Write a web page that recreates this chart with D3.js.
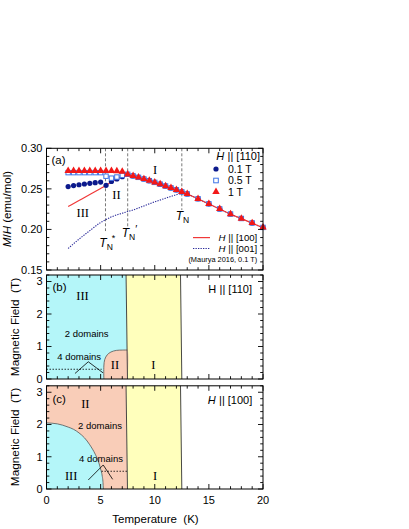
<!DOCTYPE html>
<html><head><meta charset="utf-8">
<script src="https://cdn.jsdelivr.net/npm/d3@7"></script>
<style>
body{margin:0;background:#fff}
svg{display:block}
text{font-family:"Liberation Sans",Arial,Helvetica,sans-serif;fill:#000}
.serif{font-family:"Liberation Serif","Times New Roman",serif}
</style>
</head><body>
<svg id="chart" width="409" height="529"></svg>
<script>
// ---------- data ----------
const tLow  = [2,2.5,3,3.5,4,4.5,5,5.5,6,6.5,7];
const tHigh = [7.5,8,8.5,9,9.5,10,10.5,11,11.5,12,12.5,13,14,15,16,17,18,19,20];
const mhHigh  = [0.2680,0.2660,0.2642,0.2622,0.2601,0.2580,0.2558,0.2535,0.2512,0.2488,0.2463,0.2438,0.2378,0.2316,0.2253,0.2190,0.2135,0.2080,0.2025];
const mh01Low = [0.2528,0.2540,0.2551,0.2560,0.2568,0.2576,0.2584,0.2544,0.2592,0.2622,0.2650];
const mh05Low = [0.2700,0.2700,0.2700,0.2700,0.2700,0.2700,0.2700,0.2656,0.2632,0.2646,0.2666];
const mh1Low  = [0.2722,0.2722,0.2722,0.2722,0.2722,0.2722,0.2722,0.2722,0.2722,0.2720,0.2712];
const t100 = [2,3,4,5,5.5,6,6.5,7,7.5,8,9,10,11,12,12.5,13,14,15,16,17,18,19,20];
const m100 = [0.2282,0.2356,0.2430,0.2505,0.2543,0.2588,0.2622,0.2652,0.2675,0.2658,0.2620,0.2578,0.2533,0.2486,0.2461,0.2436,0.2376,0.2314,0.2251,0.2188,0.2133,0.2078,0.2020];
const t001 = [2,3,4,5,5.5,6,7,7.5,8,9,10,11,12,12.5,13,14,15,16,17,18,19,20];
const m001 = [0.1765,0.1880,0.1985,0.2085,0.2122,0.2155,0.2200,0.2220,0.2240,0.2290,0.2340,0.2385,0.2428,0.2448,0.2436,0.2376,0.2314,0.2251,0.2188,0.2133,0.2078,0.2020];
const transT = [5.45, 7.5, 12.5];            // T_N*, T_N', T_N
const transName = ["*", "\u2032", ""];
const legendFields = ["0.1 T","0.5 T","1 T"];
// phase boundaries (T, H)
const bndTop = [7.35, 12.38];   // boundary T at H = 3.2
const bndBot = [7.48, 12.50];   // boundary T at H = 0
const iiT = [5.3,5.3,5.38,5.6,5.95,6.45,7.0,7.46];
const iiH = [0,0.4,0.6,0.74,0.83,0.88,0.89,0.89];
const iiiT = [0,1,2,2.5,3,3.5,4,4.5,4.8,5,5.15,5.22,5.25];
const iiiH = [2.05,2.02,1.92,1.85,1.74,1.59,1.37,1.08,0.85,0.62,0.40,0.20,0];
const yTicksA = [0.15,0.20,0.25,0.30];
const yTicksBC = [0,1,2,3];
const xTicks = [0,5,10,15,20];

// ---------- setup ----------
const svg = d3.select("#chart");
const x = d3.scaleLinear().domain([0,20]).range([46.5,263]);
const yA = d3.scaleLinear().domain([0.15,0.30]).range([270,148.3]);
const yB = d3.scaleLinear().domain([0,3.2]).range([379,275]);
const yC = d3.scaleLinear().domain([0,3.2]).range([489,385.8]);
const cCyan="#b4f6f9", cYellow="#ffffbc", cSalmon="#f9cdb8";
const cNavy="#0c1a8c", cSq="#3f74e6", cRed="#f21818";

function frame(y, yMajor, yMinorStep, yFmt, showX){
  const g = svg.append("g");
  const [x0,x1] = x.range(), [yb,yt] = y.range();
  const yMinor = d3.range(y.domain()[0], y.domain()[1]+1e-9, yMinorStep);
  const xMinor = d3.range(0,20.001,1);
  const L=5, l=2.8;
  const tick = (x1_,y1_,x2_,y2_)=>g.append("line").attr("x1",x1_).attr("y1",y1_).attr("x2",x2_).attr("y2",y2_).attr("stroke","#000").attr("stroke-width",0.9);
  xMinor.forEach(v=>{
    const len = (v%5===0)?L:l, px=x(v);
    tick(px,yb,px,yb-len); tick(px,yt,px,yt+len);
  });
  yMinor.forEach(v=>{
    const maj = yMajor.some(m=>Math.abs(m-v)<1e-6);
    const len = maj?L:l, py=y(v);
    tick(x0,py,x0+len,py); tick(x1,py,x1-len,py);
  });
  g.append("rect").attr("x",x0).attr("y",yt).attr("width",x1-x0).attr("height",yb-yt)
    .attr("fill","none").attr("stroke","#000").attr("stroke-width",1);
  yMajor.forEach(v=>{
    g.append("text").attr("x",x0-4).attr("y",y(v)).attr("dy","0.36em")
      .attr("text-anchor","end").attr("font-size",11).text(yFmt(v));
  });
  if(showX){
    xTicks.forEach(v=>{
      g.append("text").attr("x",x(v)).attr("y",yb+14.5).attr("text-anchor","middle")
        .attr("font-size",11).text(v);
    });
  }
}

// ---------- panel (b) regions ----------
const gb = svg.append("g");
const polyB = pts => pts.map(p=>[x(p[0]),yB(p[1])]);
const polyC = pts => pts.map(p=>[x(p[0]),yC(p[1])]);
const lineGen = d3.line();
gb.append("path").attr("d",lineGen(polyB([[0,0],[0,3.2],[bndTop[0],3.2],[bndBot[0],0]]))+"Z").attr("fill",cCyan);
gb.append("path").attr("d",lineGen(polyB([[bndTop[0],3.2],[bndTop[1],3.2],[bndBot[1],0],[bndBot[0],0]]))+"Z").attr("fill",cYellow);
const iiPts = iiT.map((t,i)=>[t,iiH[i]]);
const crB = d3.line().x(d=>x(d[0])).y(d=>yB(d[1])).curve(d3.curveCatmullRom);
gb.append("path").attr("d",crB(iiPts.concat([[bndBot[0],0]]))+"Z").attr("fill",cSalmon);
gb.append("path").attr("d",crB(iiPts)).attr("fill","none").attr("stroke","#555").attr("stroke-width",0.8);
[0,1].forEach(i=>gb.append("line").attr("x1",x(bndTop[i])).attr("y1",yB(3.2)).attr("x2",x(bndBot[i])).attr("y2",yB(0))
  .attr("stroke","#333").attr("stroke-width",0.9));
gb.append("line").attr("x1",x(0)).attr("x2",x(5.1)).attr("y1",yB(0.3)).attr("y2",yB(0.3))
  .attr("stroke","#000").attr("stroke-width",0.8).attr("stroke-dasharray","1.5,1.5");
gb.append("polyline").attr("points",[[2.63,0.17],[3.86,0.53],[5.22,0.19]].map(p=>[x(p[0]),yB(p[1])].join(",")).join(" "))
  .attr("fill","none").attr("stroke","#000").attr("stroke-width",0.8);

// ---------- panel (c) regions ----------
const gc = svg.append("g");
gc.append("path").attr("d",lineGen(polyC([[0,0],[0,3.2],[bndTop[0],3.2],[bndBot[0],0]]))+"Z").attr("fill",cSalmon);
gc.append("path").attr("d",lineGen(polyC([[bndTop[0],3.2],[bndTop[1],3.2],[bndBot[1],0],[bndBot[0],0]]))+"Z").attr("fill",cYellow);
const iiiPts = iiiT.map((t,i)=>[t,iiiH[i]]);
const ellLine = d3.line().x(d=>x(d[0])).y(d=>yC(d[1])).curve(d3.curveMonotoneX);
gc.append("path").attr("d",ellLine(iiiPts)+"L"+x(0)+","+yC(0)+"Z").attr("fill",cCyan);
gc.append("path").attr("d",ellLine(iiiPts)).attr("fill","none").attr("stroke","#555").attr("stroke-width",0.8);
[0,1].forEach(i=>gc.append("line").attr("x1",x(bndTop[i])).attr("y1",yC(3.2)).attr("x2",x(bndBot[i])).attr("y2",yC(0))
  .attr("stroke","#333").attr("stroke-width",0.9));
gc.append("line").attr("x1",x(5.08)).attr("x2",x(7.46)).attr("y1",yC(0.55)).attr("y2",yC(0.55))
  .attr("stroke","#000").attr("stroke-width",0.8).attr("stroke-dasharray","1.5,1.5");
gc.append("polyline").attr("points",[[3.86,0.28],[5.24,0.745],[6.11,0.30]].map(p=>[x(p[0]),yC(p[1])].join(",")).join(" "))
  .attr("fill","none").attr("stroke","#000").attr("stroke-width",0.8);

// ---------- panel (a) ----------
const ga = svg.append("g");
const bottoms = [0.198, 0.2036, 0.224];
transT.forEach((t,i)=>{
  ga.append("line").attr("x1",x(t)).attr("x2",x(t)).attr("y1",yA(0.30)).attr("y2",yA(bottoms[i]))
    .attr("stroke","#555").attr("stroke-width",0.8).attr("stroke-dasharray","3,2");
});
const lA = d3.line().x(d=>x(d[0])).y(d=>yA(d[1])).curve(d3.curveMonotoneX);
ga.append("path").attr("d",lA(t001.map((t,i)=>[t,m001[i]]))).attr("fill","none")
  .attr("stroke","#2a2a9a").attr("stroke-width",1.1).attr("stroke-dasharray","1.3,1.2");
ga.append("path").attr("d",lA(t100.map((t,i)=>[t,m100[i]]))).attr("fill","none")
  .attr("stroke","#f03838").attr("stroke-width",1.2);
const s01 = tLow.map((t,i)=>[t,mh01Low[i]]).concat(tHigh.map((t,i)=>[t,mhHigh[i]]));
const s05 = tLow.map((t,i)=>[t,mh05Low[i]]).concat(tHigh.map((t,i)=>[t,mhHigh[i]]));
const s1  = tLow.map((t,i)=>[t,mh1Low[i]]).concat(tHigh.map((t,i)=>[t,mhHigh[i]]));
ga.selectAll("circle.d").data(s01).join("circle").attr("cx",d=>x(d[0])).attr("cy",d=>yA(d[1])).attr("r",2.6).attr("fill",cNavy);
ga.selectAll("rect.d").data(s05).join("rect").attr("x",d=>x(d[0])-2.2).attr("y",d=>yA(d[1])-2.2)
  .attr("width",4.4).attr("height",4.4).attr("fill","#fff").attr("stroke",cSq).attr("stroke-width",1);
const tri = d3.symbol().type(d3.symbolTriangle).size(24);
ga.selectAll("path.d").data(s1).join("path").attr("d",tri).attr("transform",d=>`translate(${x(d[0])},${yA(d[1])})`).attr("fill",cRed);

// T_N labels
const tnPos = [[99.3,247.3],[121.7,236.7],[175.7,220]];
transT.forEach((t,i)=>{
  const tx = ga.append("text").attr("x",tnPos[i][0]).attr("y",tnPos[i][1]).attr("font-size",12);
  tx.append("tspan").attr("font-style","italic").text("T");
  tx.append("tspan").attr("font-size",8.5).attr("dy",3).text("N");
  if(transName[i]) tx.append("tspan").attr("font-size",i===0?9:11).attr("dy",i===0?-9:-7).attr("dx",i===0?-1:0).text(transName[i]);
});

// frames
frame(yA, yTicksA, 0.01, d3.format(".2f"), false);
frame(yB, yTicksBC, 0.2, d3.format("d"), false);
frame(yC, yTicksBC, 0.2, d3.format("d"), true);

// region labels
const roman = (t,cx,by)=>svg.append("text").attr("class","serif").attr("x",cx).attr("y",by)
  .attr("text-anchor","middle").attr("font-size",12.5).text(t);
roman("I",155,174.3); roman("II",116.5,199); roman("III",82.8,217.3);
roman("III",82.5,300); roman("II",115,369); roman("I",153.3,369);
roman("II",85.3,408.3); roman("III",71.2,480); roman("I",155,480);

const plain = (t,cx,by,fs,anchor)=>svg.append("text").attr("x",cx).attr("y",by)
  .attr("text-anchor",anchor||"middle").attr("font-size",fs).text(t);
plain("(a)",51.5,164.3,11.5,"start");
plain("(b)",52.5,291,11.5,"start");
plain("(c)",52.5,403.3,11.5,"start");
plain("2 domains",86.7,336.7,9.5);
plain("4 domains",79.2,359.5,9.5);
plain("2 domains",100,429.3,9.5);
plain("4 domains",101,461.7,9.5);

// "H || [...]" labels: italic H as its own text, placed left of the rest
function hpar(xr,by,fs,tail,ital){
  const rest = svg.append("text").attr("x",xr).attr("y",by).attr("text-anchor","end").attr("font-size",fs).text("|| "+tail);
  const w = rest.node().getComputedTextLength();
  svg.append("text").attr("x",xr-w-fs*0.3).attr("y",by).attr("text-anchor","end").attr("font-size",fs)
    .attr("font-style",ital?"italic":"normal").text("H");
}
hpar(260,159.5,11,"[110]",true);
hpar(252,293,11,"[110]",false);
hpar(252.3,404,11,"[100]",true);

// legend markers
const legY = [169,180.5,191.8];
svg.append("circle").attr("cx",216).attr("cy",legY[0]).attr("r",2.6).attr("fill",cNavy);
svg.append("rect").attr("x",216-2.3).attr("y",legY[1]-2.3).attr("width",4.6).attr("height",4.6).attr("fill","#fff").attr("stroke",cSq).attr("stroke-width",1);
svg.append("path").attr("d",tri).attr("transform",`translate(216,${legY[2]})`).attr("fill",cRed);
legendFields.forEach((f,i)=>plain(f,228,legY[i]+3.8,10.5,"start"));
const lgY = [237.6, 248.5];
svg.append("line").attr("x1",193).attr("x2",210).attr("y1",lgY[0]).attr("y2",lgY[0]).attr("stroke","#f03838").attr("stroke-width",1.2);
svg.append("line").attr("x1",193).attr("x2",210).attr("y1",lgY[1]).attr("y2",lgY[1]).attr("stroke","#2a2a9a").attr("stroke-width",1.1).attr("stroke-dasharray","1.3,1.2");
hpar(257.3,lgY[0]+3.4,9.6,"[100]",true);
hpar(257.3,lgY[1]+3.4,9.6,"[001]",true);
plain("(Maurya 2016, 0.1 T)",257.3,261.8,7.4,"end");

// axis titles
const yl = svg.append("text").attr("transform","translate(11,209) rotate(-90)").attr("text-anchor","middle").attr("font-size",11.5);
yl.append("tspan").attr("font-style","italic").text("M");
yl.append("tspan").text("/");
yl.append("tspan").attr("font-style","italic").text("H");
yl.append("tspan").text(" (emu/mol)");
[327,437].forEach(cy=>{
  svg.append("text").attr("transform",`translate(19,${cy}) rotate(-90)`).attr("text-anchor","middle")
    .attr("font-size",11.8).text("Magnetic Field \u00a0(T)");
});
plain("Temperature \u00a0(K)",155.5,523,11.5);
</script>
</body></html>
